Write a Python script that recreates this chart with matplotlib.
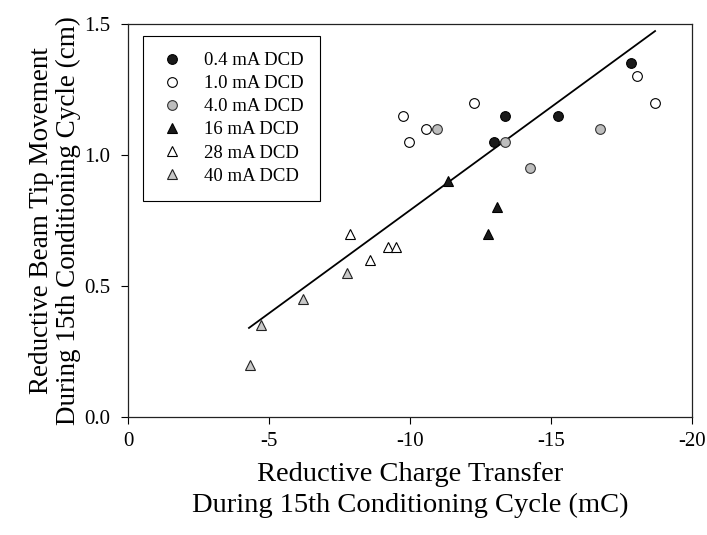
import matplotlib
matplotlib.use("Agg")
import matplotlib.pyplot as plt

plt.rcParams['font.family'] = ['Liberation Serif', 'DejaVu Serif']
plt.rcParams['axes.unicode_minus'] = False

# Data (x: reductive charge transfer in mC, y: beam tip movement in cm)
x_04 = [-12.98, -13.37, -15.25, -17.84]
y_04 = [1.05, 1.15, 1.15, 1.35]

x_10 = [-9.75, -9.96, -10.57, -12.27, -18.05, -18.69]
y_10 = [1.15, 1.05, 1.10, 1.20, 1.30, 1.20]

x_40 = [-10.96, -13.37, -14.26, -16.74]
y_40 = [1.10, 1.05, 0.95, 1.10]

x_16 = [-11.35, -13.08, -12.77]
y_16 = [0.90, 0.80, 0.70]

x_28 = [-7.87, -8.58, -9.22, -9.50]
y_28 = [0.70, 0.60, 0.65, 0.65]

x_40mA = [-4.33, -4.70, -6.20, -7.77]
y_40mA = [0.20, 0.35, 0.45, 0.55]

fit_x = [-4.29, -18.69]
fit_y = [0.34, 1.473]

x_ticks = [0, -5, -10, -15, -20]
x_ticklabels = ['0', '-5', '-10', '-15', '-20']
y_ticks = [0.0, 0.5, 1.0, 1.5]
y_ticklabels = ['0.0', '0.5', '1.0', '1.5']

fig = plt.figure(figsize=(7.07, 5.35), dpi=100)
ax = fig.add_axes([128/707, 1 - 417/535, (692-128)/707, (417-24)/535])

ms = 7
ax.plot(fit_x, fit_y, color='black', lw=1.3, zorder=1)
ax.plot(x_04, y_04, 'o', ms=ms, mfc='#1a1a1a', mec='black', mew=0.8, ls='none', label='0.4 mA DCD', zorder=3)
ax.plot(x_10, y_10, 'o', ms=ms, mfc='white', mec='black', mew=0.8, ls='none', label='1.0 mA DCD', zorder=3)
ax.plot(x_40, y_40, 'o', ms=ms, mfc='#bdbdbd', mec='#333333', mew=0.8, ls='none', label='4.0 mA DCD', zorder=3)
ax.plot(x_16, y_16, '^', ms=ms, mfc='#1a1a1a', mec='black', mew=0.8, ls='none', label='16 mA DCD', zorder=3)
ax.plot(x_28, y_28, '^', ms=ms, mfc='white', mec='black', mew=0.8, ls='none', label='28 mA DCD', zorder=3)
ax.plot(x_40mA, y_40mA, '^', ms=ms, mfc='#c8c8c8', mec='#222222', mew=0.8, ls='none', label='40 mA DCD', zorder=3)

ax.set_xlim(0, -20)
ax.set_ylim(0, 1.5)
ax.set_xticks(x_ticks)
ax.set_xticklabels(x_ticklabels)
ax.set_yticks(y_ticks)
ax.set_yticklabels(y_ticklabels)
ax.tick_params(direction='out', length=5, width=0.8, labelsize=15, colors='black')
ax.tick_params(axis='x', pad=6)
ax.tick_params(axis='y', pad=8)
for s in ax.spines.values():
    s.set_linewidth(0.9)
    s.set_color('#222222')

ax.set_xlabel('Reductive Charge Transfer\nDuring 15th Conditioning Cycle (mC)', fontsize=20.5, labelpad=8, linespacing=1.3)
ax.set_ylabel('Reductive Beam Tip Movement\nDuring 15th Conditioning Cycle (cm)', fontsize=19.5, labelpad=2, linespacing=1.1)

leg = ax.legend(loc='upper left', bbox_to_anchor=((143-128)/564, (417-36)/393), borderaxespad=0,
                fancybox=False, edgecolor='black', fontsize=13.5, handlelength=1.4,
                handletextpad=1.0, borderpad=0.85, labelspacing=0.32, framealpha=1)
leg.get_frame().set_linewidth(0.8)

fig.savefig('out.png', dpi=100)
